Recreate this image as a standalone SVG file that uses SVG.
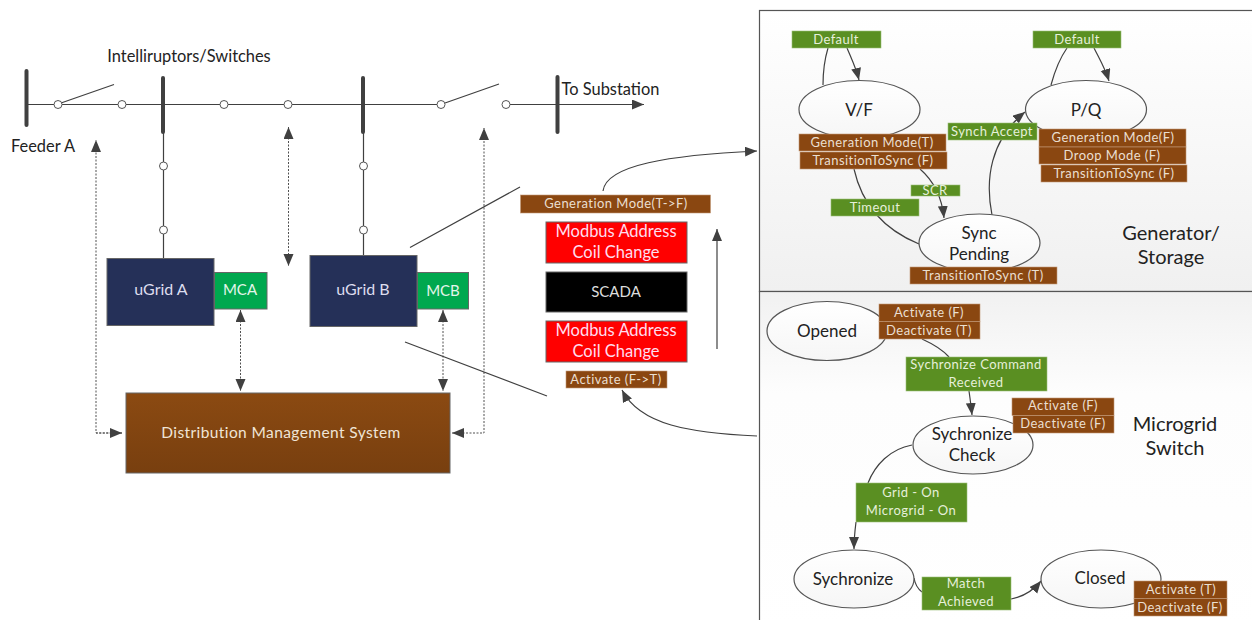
<svg xmlns="http://www.w3.org/2000/svg" width="1252" height="620" viewBox="0 0 1252 620">
<style>
text{font-family:"Lato","Open Sans","Liberation Sans",sans-serif;text-anchor:middle}
.c{fill:none;stroke:#404040;stroke-width:1.2}
.d{fill:none;stroke:#505050;stroke-width:1;stroke-dasharray:2 1.5}
.w{fill:#fff;stroke:#555;stroke-width:1}
.bus{stroke:#404040;stroke-width:4;stroke-linecap:round}
.e{fill:url(#eg);stroke:#555;stroke-width:1.2}
.lb{fill:#8a4711;stroke:#c49a78;stroke-width:.6}
.lg{fill:#5a8f22;stroke:#9cc07a;stroke-width:.6}
.tl{fill:#eadfd0;font-size:13px;letter-spacing:.45px}
.tg{fill:#e6f0da;font-size:13px;letter-spacing:.45px}
.st{fill:#222;font-size:17px}
.big{fill:#222;font-size:20px}
.k{fill:#222;font-size:16.400px}
.box{stroke:#666;stroke-width:1}
.ml{fill:#fde;font-size:16.500px}
</style>
<defs>
<marker id="a" markerUnits="userSpaceOnUse" markerWidth="14" markerHeight="12" refX="12" refY="5" orient="auto-start-reverse"><path d="M0 0L12 5L0 10Z" fill="#404040"/></marker>
<linearGradient id="pg" x1="0" y1="0" x2="0" y2="1"><stop offset="0" stop-color="#fff"/><stop offset="1" stop-color="#f0f0f0"/></linearGradient>
<linearGradient id="pg2" x1="0" y1="0" x2="0" y2="1"><stop offset="0" stop-color="#f1f1f1"/><stop offset=".3" stop-color="#fdfdfd"/><stop offset="1" stop-color="#fff"/></linearGradient>
<linearGradient id="eg" x1="0" y1="0" x2="0" y2="1"><stop offset="0" stop-color="#fff"/><stop offset="1" stop-color="#f6f6f6"/></linearGradient>
<linearGradient id="bg" x1="0" y1="0" x2="0" y2="1"><stop offset="0" stop-color="#8b4a12"/><stop offset="1" stop-color="#783f0f"/></linearGradient>
</defs>

<g id="panels">
<rect x="759.500" y="10.500" width="500" height="281" fill="url(#pg)" stroke="#555" stroke-width="1.200"/>
<rect x="759.500" y="291.500" width="500" height="340" fill="url(#pg2)" stroke="#555" stroke-width="1.200"/>
</g>

<g id="connectors">
<path class="c" d="M28 104.500H54M62 104.500H118M126 104.500H437M510 104.500H557M163.500 133V259M363.500 133V256"/>
<path class="c" d="M61 103L114 84.500M445 103L499 84"/>
<path class="c" d="M557 104.500H644" marker-end="url(#a)"/>
<path class="d" d="M122 433H96V140" marker-end="url(#a)"/>
<path class="d" d="M288.500 127V266" marker-start="url(#a)" marker-end="url(#a)"/>
<path class="d" d="M452 433H484V128" marker-start="url(#a)" marker-end="url(#a)"/>
<path class="d" d="M240.500 310V391" marker-start="url(#a)" marker-end="url(#a)"/>
<path class="d" d="M443 310V391" marker-start="url(#a)" marker-end="url(#a)"/>
<path class="d" d="M96 433H122" marker-end="url(#a)"/>
<path class="c" d="M410 247.500L520 187M405 342L547 396"/>
<path class="c" d="M717 349V229" marker-end="url(#a)"/>
<path class="c" d="M603 191C606 165 670 155 757 151" marker-end="url(#a)"/>
<path class="c" d="M757 436C690 433 640 425 622 390" marker-end="url(#a)"/>
<path class="c" d="M823 85C823 70 825 58 828 48"/>
<path class="c" d="M847 48C852 60 856 68 859 80" marker-end="url(#a)"/>
<path class="c" d="M1051 85C1055 70 1060 58 1067 48"/>
<path class="c" d="M1094 48C1100 60 1105 68 1109 81" marker-end="url(#a)"/>
<path class="c" d="M854 169C862 205 885 230 919 244"/>
<path class="c" d="M920 169C935 182 942 198 944 218" marker-end="url(#a)"/>
<path class="c" d="M992 215C985 180 990 140 1025 112" marker-end="url(#a)"/>
<path class="c" d="M922 339C933 344 942 349 949 357"/>
<path class="c" d="M969 391C970 398 971 405 972 415" marker-end="url(#a)"/>
<path class="c" d="M912 445C890 449 875 465 868 483"/>
<path class="c" d="M856 522C855 530 854 538 854 549" marker-end="url(#a)"/>
<path class="c" d="M914 578C915 584 918 589 922 592"/>
<path class="c" d="M1011 599C1022 597 1032 592 1041 581" marker-end="url(#a)"/>
</g>

<g id="buses">
<line class="bus" x1="26.500" y1="71" x2="26.500" y2="125"/>
<line class="bus" x1="163" y1="78" x2="163" y2="132"/>
<line class="bus" x1="363" y1="78" x2="363" y2="132"/>
<line class="bus" x1="557.500" y1="77" x2="557.500" y2="132"/>
</g>
<g id="switches">
<circle class="w" cx="58" cy="104.500" r="4"/><circle class="w" cx="122" cy="104.500" r="4"/>
<circle class="w" cx="224" cy="104.500" r="4"/><circle class="w" cx="288" cy="104.500" r="4"/>
<circle class="w" cx="441" cy="104.500" r="4"/><circle class="w" cx="506" cy="104.500" r="4"/>
<circle class="w" cx="163.500" cy="166" r="4"/><circle class="w" cx="163.500" cy="230" r="4"/>
<circle class="w" cx="363.500" cy="166" r="4"/><circle class="w" cx="363.500" cy="230" r="4"/>
</g>
<g id="labels-left">
<text class="k" x="189" y="62">Intelliruptors/Switches</text>
<text class="k" x="43" y="152">Feeder A</text>
<text class="k" x="610.500" y="95">To Substation</text>
</g>

<g id="ugrid-a"><rect class="box" x="107" y="258.500" width="107" height="67" fill="#253058"/><text x="161" y="295" fill="#dde" font-size="16">uGrid A</text></g>
<g id="mca"><rect class="box" x="214.500" y="272.500" width="52.500" height="36.500" fill="#00a84f"/><text x="240" y="295" fill="#e4f5ea" font-size="15">MCA</text></g>
<g id="ugrid-b"><rect class="box" x="310" y="255.500" width="107" height="71" fill="#253058"/><text x="363" y="295" fill="#dde" font-size="16">uGrid B</text></g>
<g id="mcb"><rect class="box" x="417.500" y="272.500" width="51" height="36.500" fill="#00a84f"/><text x="443" y="296" fill="#e4f5ea" font-size="15">MCB</text></g>
<g id="dms"><rect class="box" x="126" y="393" width="324" height="80" fill="url(#bg)"/><text x="281" y="438" fill="#f0e4d6" font-size="15.500" letter-spacing=".4">Distribution Management System</text></g>

<g id="gen-mode"><rect class="lb" x="520.500" y="195" width="190" height="18"/><text class="tl" x="616" y="208">Generation Mode(T-&gt;F)</text></g>
<g id="modbus-top"><rect class="box" x="546" y="222" width="141" height="41" fill="#f00"/><text class="ml" x="616" y="237">Modbus Address</text><text class="ml" x="616" y="258">Coil Change</text></g>
<g id="scada"><rect class="box" x="546" y="272" width="141" height="40" fill="#000"/><text x="616" y="297" fill="#ddd" font-size="15">SCADA</text></g>
<g id="modbus-bottom"><rect class="box" x="546" y="321" width="141" height="41" fill="#f00"/><text class="ml" x="616" y="336">Modbus Address</text><text class="ml" x="616" y="357">Coil Change</text></g>
<g id="activate"><rect class="lb" x="566" y="371" width="101" height="17"/><text class="tl" x="616" y="384">Activate (F-&gt;T)</text></g>

<g id="vf"><ellipse class="e" cx="859.500" cy="109.500" rx="60.500" ry="29"/><text class="st" x="859" y="116">V/F</text></g>
<g id="pq"><ellipse class="e" cx="1086" cy="109.500" rx="60.500" ry="29"/><text class="st" x="1086" y="116">P/Q</text></g>
<g id="sync-pending"><ellipse class="e" cx="979.500" cy="243" rx="60.500" ry="29"/><text class="st" x="979" y="239">Sync</text><text class="st" x="979" y="260">Pending</text></g>
<g id="opened"><ellipse class="e" cx="827" cy="331" rx="60" ry="29.500"/><text class="st" x="827" y="337">Opened</text></g>
<g id="sync-check"><ellipse class="e" cx="973" cy="445" rx="60" ry="29"/><text class="st" x="972" y="440">Sychronize</text><text class="st" x="972" y="461">Check</text></g>
<g id="sychronize"><ellipse class="e" cx="854" cy="579" rx="60" ry="29"/><text class="st" x="853" y="585">Sychronize</text></g>
<g id="closed"><ellipse class="e" cx="1101" cy="579" rx="60" ry="29"/><text class="st" x="1100" y="584">Closed</text></g>

<g id="t-default-1"><rect class="lg" x="792" y="31" width="89" height="17"/><text class="tg" x="836" y="44">Default</text></g>
<g id="t-default-2"><rect class="lg" x="1033" y="31" width="88" height="17"/><text class="tg" x="1077" y="44">Default</text></g>
<g id="t-gm-t"><rect class="lb" x="799" y="134" width="147" height="17"/><text class="tl" x="872" y="147">Generation Mode(T)</text></g>
<g id="t-tts-f1"><rect class="lb" x="800" y="152" width="147" height="17"/><text class="tl" x="873" y="165">TransitionToSync (F)</text></g>
<g id="t-accept"><rect class="lg" x="948" y="123" width="89" height="17"/><text class="tg" x="992" y="136">Synch Accept</text></g>
<g id="t-gm-f"><rect class="lb" x="1039" y="129" width="147" height="18"/><text class="tl" x="1113" y="142">Generation Mode(F)</text></g>
<g id="t-droop"><rect class="lb" x="1039" y="147" width="147" height="17"/><text class="tl" x="1112" y="160">Droop Mode (F)</text></g>
<g id="t-tts-f2"><rect class="lb" x="1041" y="165" width="146" height="17"/><text class="tl" x="1114" y="178">TransitionToSync (F)</text></g>
<g id="t-scr"><rect class="lg" x="911" y="185" width="49" height="11"/><text class="tg" x="935" y="195">SCR</text></g>
<g id="t-timeout"><rect class="lg" x="831" y="199" width="88" height="17"/><text class="tg" x="875" y="212">Timeout</text></g>
<g id="t-tts-t"><rect class="lb" x="910" y="267" width="147" height="17"/><text class="tl" x="983" y="280">TransitionToSync (T)</text></g>
<g id="t-gs"><text class="big" x="1171" y="240">Generator/</text><text class="big" x="1171" y="264">Storage</text></g>

<g id="s-open"><rect class="lb" x="879" y="304" width="101" height="17.500"/><text class="tl" x="929" y="317">Activate (F)</text><rect class="lb" x="879" y="321.500" width="101" height="17.500"/><text class="tl" x="929" y="335">Deactivate (T)</text></g>
<g id="s-cmd"><rect class="lg" x="906" y="357" width="141" height="34"/><text class="tg" x="976" y="369">Sychronize Command</text><text class="tg" x="976" y="387">Received</text></g>
<g id="s-check"><rect class="lb" x="1012" y="398" width="102" height="17.500"/><text class="tl" x="1063" y="410">Activate (F)</text><rect class="lb" x="1013" y="415.500" width="101" height="17.500"/><text class="tl" x="1063" y="428">Deactivate (F)</text></g>
<g id="s-grid"><rect class="lg" x="856" y="483" width="111" height="39"/><text class="tg" x="911" y="497">Grid - On</text><text class="tg" x="911" y="515">Microgrid - On</text></g>
<g id="s-match"><rect class="lg" x="922" y="577" width="89" height="33"/><text class="tg" x="966" y="588">Match</text><text class="tg" x="966" y="606">Achieved</text></g>
<g id="s-closed"><rect class="lb" x="1134" y="581" width="93" height="17.500"/><text class="tl" x="1181" y="594">Activate (T)</text><rect class="lb" x="1134" y="598.500" width="93" height="17.500"/><text class="tl" x="1180" y="612">Deactivate (F)</text></g>
<g id="t-ms"><text class="big" x="1175" y="431">Microgrid</text><text class="big" x="1175" y="455">Switch</text></g>
</svg>
